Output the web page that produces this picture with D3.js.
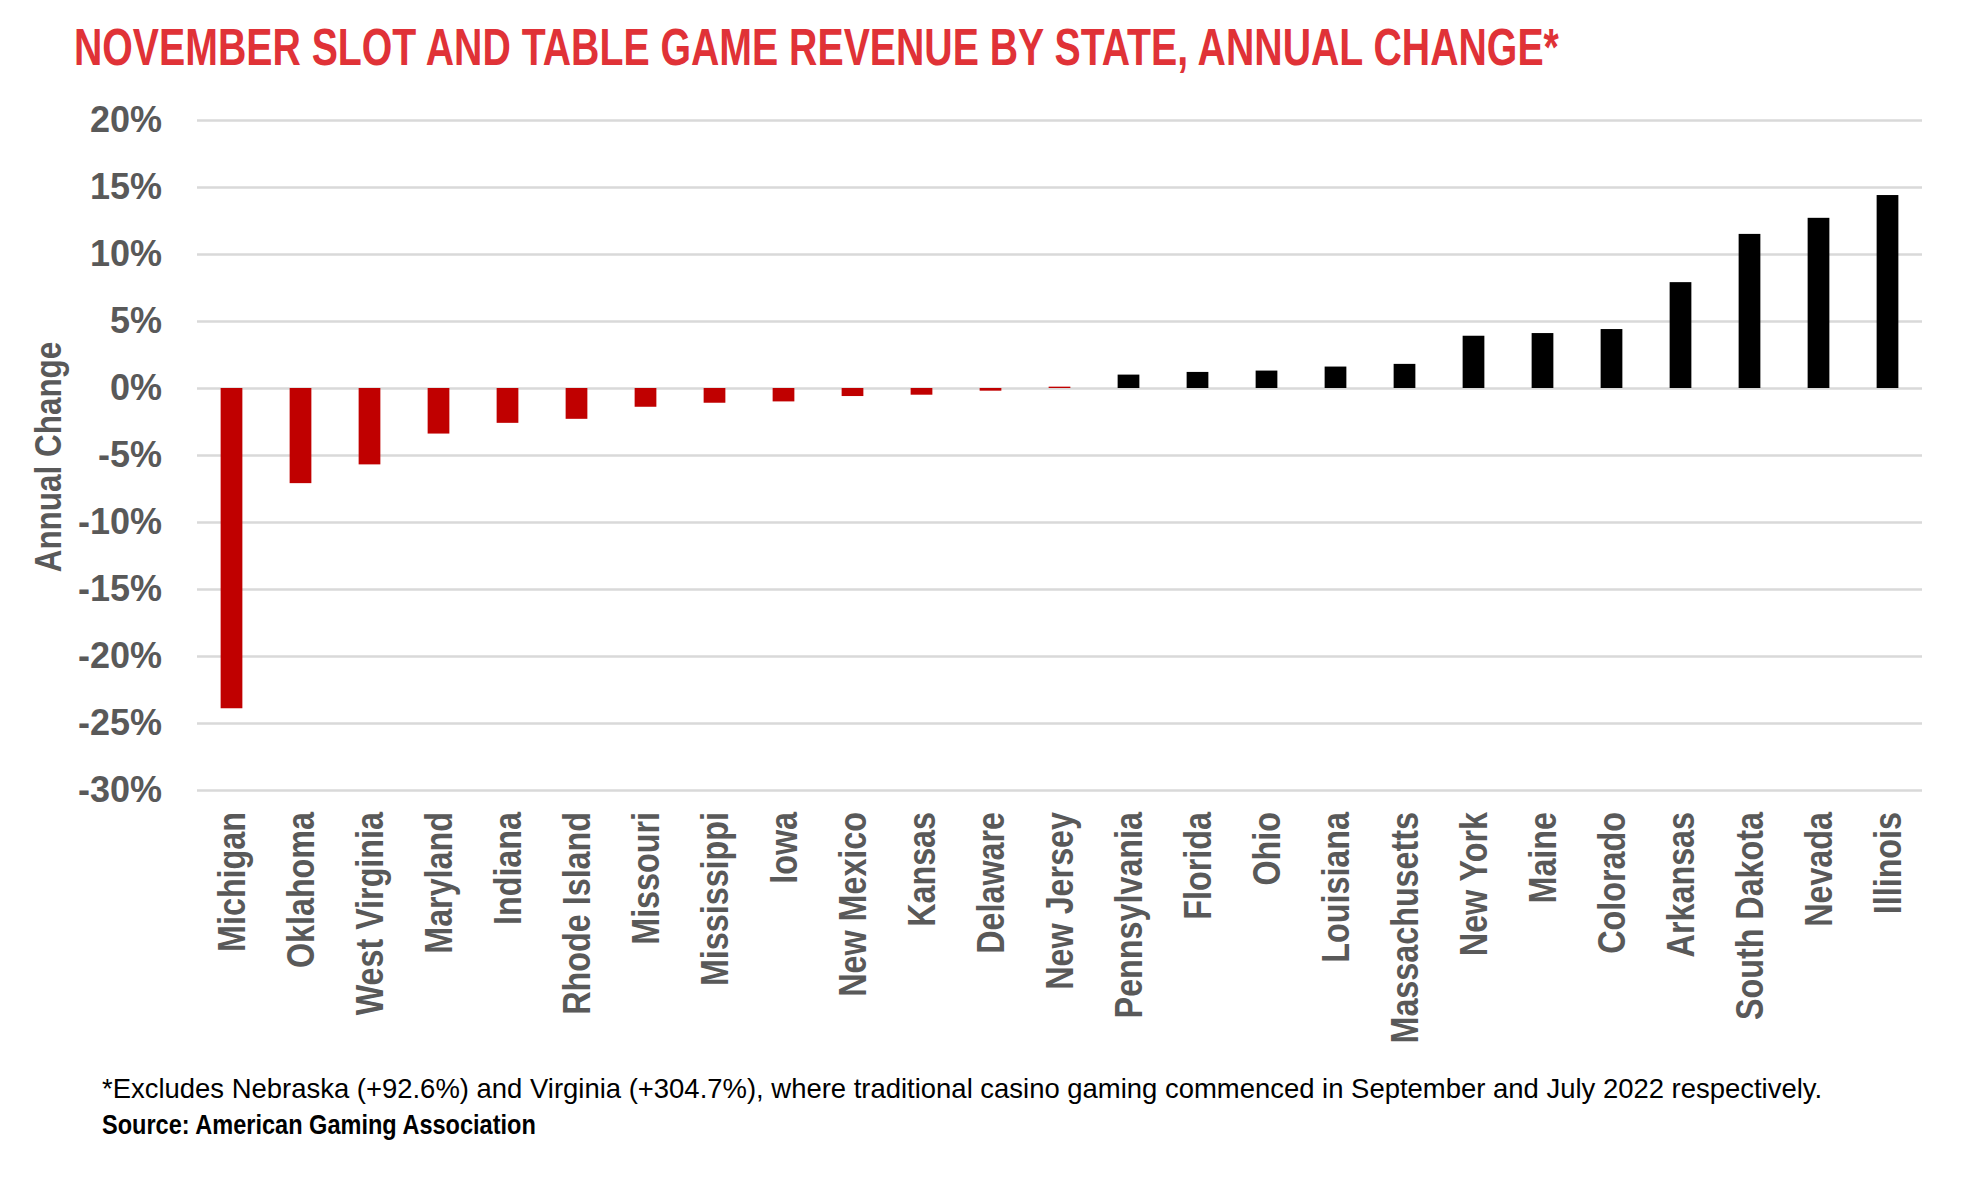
<!DOCTYPE html>
<html lang="en">
<head>
    <meta charset="UTF-8">
    <title>November Slot and Table Game Revenue by State</title>
    <script src="https://cdnjs.cloudflare.com/ajax/libs/d3/7.8.5/d3.min.js"></script>
    <style>
        body { margin: 0; background: #fff; }
        .bold { font-family: "Liberation Sans", Arial, sans-serif; font-weight: bold; }
    </style>
</head>
<body>
    <div id="chart"></div>

    <script>
        // values, % change vs Nov 2021
        const states = ["Michigan", "Oklahoma", "West Virginia", "Maryland", "Indiana", "Rhode Island",
            "Missouri", "Mississippi", "Iowa", "New Mexico", "Kansas", "Delaware", "New Jersey",
            "Pennsylvania", "Florida", "Ohio", "Louisiana", "Massachusetts", "New York", "Maine",
            "Colorado", "Arkansas", "South Dakota", "Nevada", "Illinois"];
        const change = [-23.9, -7.1, -5.7, -3.4, -2.6, -2.3, -1.4, -1.1, -1.0, -0.6, -0.5, -0.2, 0.1,
            1.0, 1.2, 1.3, 1.6, 1.8, 3.9, 4.1, 4.4, 7.9, 11.5, 12.7, 14.4];
        const yTicks = [-30, -25, -20, -15, -10, -5, 0, 5, 10, 15, 20];

        const title = "NOVEMBER SLOT AND TABLE GAME REVENUE BY STATE, ANNUAL CHANGE*";
        const note = "*Excludes Nebraska (+92.6%) and Virginia (+304.7%), where traditional casino gaming commenced in September and July 2022 respectively.";
        const source = "Source: American Gaming Association";

        const width = 1975;
        const height = 1200;
        const plotLeft = 197, plotRight = 1922, plotTop = 120, plotBottom = 790;
        // no condensed face installed, so squeeze the bold one horizontally
        const squeeze = 0.85;

        const data = states.map((s, i) => ({ state: s, value: change[i] }));

        const x = d3.scaleBand()
            .domain(states)
            .range([plotLeft, plotRight])
            .paddingInner(0.685)
            .paddingOuter(0.3425);

        const y = d3.scaleLinear()
            .domain([-30, 20])
            .range([plotBottom, plotTop]);

        const svg = d3.select("#chart")
            .append("svg")
            .attr("width", width)
            .attr("height", height);

        svg.append("rect")
            .attr("width", width)
            .attr("height", height)
            .attr("fill", "#fff");

        // place a line of text at (tx, ty) and squeeze it to a given width
        function fitText(sel, tx, ty, target) {
            const w = sel.node().getComputedTextLength();
            sel.attr("transform", `translate(${tx},${ty}) scale(${Math.min(1, target / w)},1)`);
        }

        svg.append("text")
            .attr("class", "bold")
            .attr("font-size", 51)
            .attr("fill", "#e03237")
            .text(title)
            .call(fitText, 74, 65, 1485);

        // y axis: gridlines + % labels
        const yAxis = svg.append("g")
            .attr("transform", `translate(${plotLeft},0)`)
            .call(d3.axisLeft(y)
                .tickValues(yTicks)
                .tickFormat(d => d + "%")
                .tickSizeInner(-(plotRight - plotLeft))
                .tickSizeOuter(0)
                .tickPadding(35));

        yAxis.select(".domain").remove();
        yAxis.selectAll("line")
            .attr("stroke", "#d9d9d9")
            .attr("stroke-width", 2.5);
        yAxis.selectAll("text")
            .attr("class", "bold")
            .attr("font-size", 36)
            .attr("fill", "#595959");

        svg.append("text")
            .attr("class", "bold")
            .attr("transform", `translate(61,457) rotate(-90) scale(${squeeze},1)`)
            .attr("text-anchor", "middle")
            .attr("font-size", 37)
            .attr("fill", "#595959")
            .text("Annual Change");

        // bars
        svg.append("g")
            .selectAll("rect")
            .data(data)
            .join("rect")
            .attr("x", d => x(d.state))
            .attr("y", d => y(Math.max(0, d.value)))
            .attr("width", x.bandwidth())
            .attr("height", d => Math.abs(y(d.value) - y(0)))
            .attr("fill", d => d.value < 0.5 ? "#c00000" : "#000");

        // state names
        const xAxis = svg.append("g")
            .attr("transform", `translate(0,${plotBottom})`)
            .call(d3.axisBottom(x).tickSize(0));

        xAxis.select(".domain").remove();
        xAxis.selectAll("text")
            .attr("class", "bold")
            .attr("font-size", 38)
            .attr("fill", "#595959")
            .attr("text-anchor", "end")
            .attr("transform", `translate(0,22) rotate(-90) scale(${squeeze},1)`)
            .attr("x", 0)
            .attr("y", 0)
            .attr("dy", "0.35em");

        svg.append("text")
            .attr("font-family", "'Liberation Sans', Arial, sans-serif")
            .attr("font-size", 28)
            .attr("fill", "#000")
            .text(note)
            .call(fitText, 102, 1098, 1721);

        svg.append("text")
            .attr("class", "bold")
            .attr("font-size", 28)
            .attr("fill", "#000")
            .text(source)
            .call(fitText, 102, 1134, 434);
    </script>
</body>
</html>
